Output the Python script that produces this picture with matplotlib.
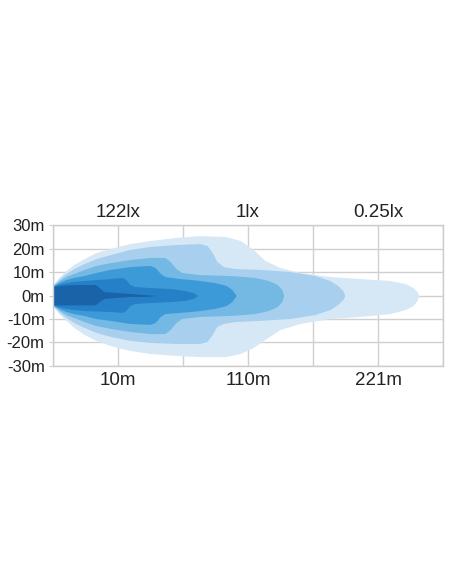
import matplotlib
matplotlib.use("Agg")
import matplotlib.pyplot as plt

plt.rcParams["font.family"] = ["Liberation Sans", "DejaVu Sans"]

# distance index: one grid column = 10 units; lateral spread in metres
L1_x = [0, 0.5, 1.1, 2.0, 3.2, 4.8, 6.6, 8.8, 11.8, 14.9, 18.8, 22.6, 26.5, 28.8, 30.8, 32.6, 34.9, 38.0, 42.6, 47.2, 51.8, 54.2, 55.4, 56.0, 56.3]
L1_top = [4.8, 6.4, 8.3, 10.6, 13.2, 15.7, 18.3, 20.0, 22.1, 23.4, 24.7, 25.5, 25.1, 23.4, 19.6, 14.9, 11.9, 9.8, 8.1, 7.2, 6.4, 5.1, 3.4, 1.7, 0]
L1_bot = [-4.8, -6.4, -8.3, -10.6, -13.6, -16.6, -19.1, -21.3, -23.4, -24.7, -25.5, -26.0, -26.0, -24.7, -22.1, -18.7, -14.5, -11.9, -9.8, -8.9, -7.7, -6.0, -4.3, -2.1, 0]

L2_x = [0, 0.5, 1.1, 2.0, 3.2, 4.8, 6.6, 8.8, 11.8, 14.9, 18.8, 22.6, 23.7, 24.5, 25.2, 26.2, 28.0, 31.8, 36.5, 40.3, 42.6, 43.8, 44.6, 44.9]
L2_top = [4.6, 5.8, 7.4, 9.4, 11.5, 13.6, 15.7, 17.4, 19.6, 20.9, 21.7, 22.1, 21.3, 18.3, 14.5, 12.3, 11.5, 11.1, 10.2, 8.5, 6.4, 4.3, 2.1, 0]
L2_bot = [-4.6, -5.8, -7.4, -9.4, -11.5, -13.6, -15.7, -17.4, -19.1, -20.0, -20.4, -20.4, -19.6, -16.6, -13.2, -11.9, -11.1, -10.6, -9.8, -8.1, -6.0, -3.8, -1.7, 0]

L3_x = [0, 0.5, 1.1, 2.0, 3.2, 4.8, 6.6, 8.8, 11.8, 14.9, 17.2, 18.0, 18.9, 19.8, 22.6, 27.2, 31.1, 33.1, 34.5, 35.2, 35.5]
L3_top = [4.4, 5.3, 6.6, 8.1, 9.4, 11.1, 12.8, 14.0, 15.3, 16.2, 16.2, 14.5, 11.5, 9.8, 8.9, 8.5, 7.7, 6.4, 4.7, 2.6, 0]
L3_bot = [-4.4, -5.3, -6.6, -8.1, -9.4, -11.1, -12.8, -14.0, -15.3, -16.2, -16.2, -14.5, -11.5, -9.8, -8.9, -8.5, -7.7, -6.4, -4.7, -2.6, 0]

L4_x = [0, 0.5, 1.1, 2.0, 3.2, 4.8, 6.6, 8.8, 11.8, 14.9, 15.7, 16.5, 17.2, 19.5, 22.6, 24.9, 26.6, 27.5, 28.2]
L4_top = [4.2, 4.9, 5.8, 6.8, 7.7, 8.5, 9.8, 11.1, 12.3, 12.8, 11.9, 9.4, 8.1, 7.2, 6.4, 5.5, 4.3, 2.6, 0]
L4_bot = [-4.2, -4.9, -5.8, -6.8, -7.7, -8.5, -9.8, -10.6, -11.9, -12.3, -11.5, -8.9, -7.7, -7.2, -6.4, -5.5, -4.3, -2.6, 0]

L5_x = [0, 0.5, 1.1, 2.0, 3.2, 4.8, 6.6, 8.8, 10.6, 11.2, 11.8, 12.6, 14.9, 18.0, 20.3, 21.5, 22.3]
L5_top = [4.0, 4.5, 5.0, 5.5, 6.0, 6.4, 6.8, 7.2, 7.7, 6.8, 4.7, 3.8, 3.4, 3.0, 2.1, 1.3, 0]
L5_bot = [-4.0, -4.5, -5.0, -5.5, -6.0, -6.4, -6.6, -6.8, -7.2, -6.4, -4.3, -3.4, -3.0, -2.6, -2.1, -1.3, 0]

L6_x = [0, 0.5, 1.1, 2.0, 3.2, 4.8, 6.5, 7.1, 7.8, 9.5, 11.8, 14.2, 16.0]
L6_top = [3.8, 4.0, 4.3, 4.5, 4.7, 4.7, 4.7, 3.4, 1.7, 1.3, 0.9, 0.4, 0]
L6_bot = [-3.8, -4.0, -4.0, -4.0, -4.0, -4.0, -4.0, -2.6, -1.3, -0.9, -0.4, -0.4, 0]

colors = ["#d6e8f6", "#a8d0ee", "#74b8e4", "#3d9ad8", "#2680c8", "#1b63a8"]

y_ticks = [30, 20, 10, 0, -10, -20, -30]
y_labels = ["30m", "20m", "10m", "0m", "-10m", "-20m", "-30m"]
x_grid = [0, 10, 20, 30, 40, 50, 60]
dist_labels = ["", "10m", "", "110m", "", "221m", ""]
lux_pos = [10, 30, 50]
lux_labels = ["122lx", "1lx", "0.25lx"]


def main() -> None:
    fig = plt.figure(figsize=(4.52, 5.84), dpi=100)
    ax = fig.add_axes([0.1173, 0.3733, 0.8628, 0.2414])

    layers = [
        (L1_x, L1_bot, L1_top),
        (L2_x, L2_bot, L2_top),
        (L3_x, L3_bot, L3_top),
        (L4_x, L4_bot, L4_top),
        (L5_x, L5_bot, L5_top),
        (L6_x, L6_bot, L6_top),
    ]
    for (x, lo, hi), c in zip(layers, colors):
        ax.fill_between(x, lo, hi, color=c, lw=0, zorder=2)

    ax.set_xlim(0, 60)
    ax.set_ylim(-30, 30)
    ax.set_xticks(x_grid)
    ax.set_xticklabels(dist_labels, fontsize=13.5, color="#222222")
    ax.set_yticks(y_ticks)
    ax.set_yticklabels(y_labels, fontsize=12, color="#222222")
    ax.tick_params(axis="x", length=0, pad=4)
    ax.tick_params(axis="y", length=3, pad=3, color="#cccccc")
    ax.grid(color="#d0d0d0", lw=1)
    ax.set_axisbelow(True)
    for s in ax.spines.values():
        s.set_color("#cccccc")
        s.set_linewidth(1)

    top = ax.secondary_xaxis("top")
    top.set_xticks(lux_pos)
    top.set_xticklabels(lux_labels, fontsize=13.5, color="#222222")
    top.tick_params(length=0, pad=3)
    top.spines["top"].set_visible(False)

    fig.savefig("out.png", dpi=100)
    plt.close(fig)


if __name__ == "__main__":
    main()
